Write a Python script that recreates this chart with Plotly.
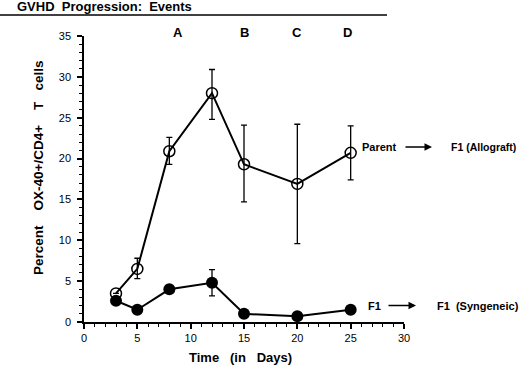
import plotly.graph_objects as go

days = [3, 5, 8, 12, 15, 20, 25]
allo_mean = [3.5, 6.5, 20.9, 28.0, 19.3, 16.9, 20.7]
allo_upper = [3.5, 7.8, 22.6, 30.9, 24.1, 24.2, 24.0]
allo_lower = [3.5, 5.3, 19.3, 24.8, 14.7, 9.6, 17.4]
syn_mean = [2.6, 1.5, 4.0, 4.8, 1.0, 0.7, 1.5]
syn_upper = [2.6, 1.5, 4.0, 6.4, 1.0, 0.7, 1.5]
syn_lower = [2.6, 1.5, 4.0, 3.2, 1.0, 0.7, 1.5]
event_labels = ["A", "B", "C", "D"]
event_days = [8.8, 15.0, 20.0, 24.7]
x_ticks = [0, 5, 10, 15, 20, 25, 30]
y_ticks = [0, 5, 10, 15, 20, 25, 30, 35]

def errs(mean, up, lo):
    plus = [u - m if u - m > 0 else None for m, u in zip(mean, up)]
    minus = [m - l if m - l > 0 else None for m, l in zip(mean, lo)]
    return plus, minus

ap, am = errs(allo_mean, allo_upper, allo_lower)
sp, sm = errs(syn_mean, syn_upper, syn_lower)

fig = go.Figure()
fig.add_trace(go.Scatter(
    x=days, y=allo_mean, mode="lines+markers",
    line=dict(color="black", width=2),
    marker=dict(symbol="circle-open", size=11, color="black", line=dict(width=1.5)),
    error_y=dict(type="data", array=ap, arrayminus=am, symmetric=False,
                 color="black", thickness=1.3, width=3),
    showlegend=False, cliponaxis=False))
fig.add_trace(go.Scatter(
    x=days, y=syn_mean, mode="lines+markers",
    line=dict(color="black", width=2),
    marker=dict(symbol="circle", size=12, color="black"),
    error_y=dict(type="data", array=sp, arrayminus=sm, symmetric=False,
                 color="black", thickness=1.3, width=3),
    showlegend=False, cliponaxis=False))

L, T, W, H = 84, 36, 320, 286

def px(x):
    return (x - L) / W

def py(y):
    return (T + H - y) / H

FAM = "Liberation Sans, Arial"
tick_font = dict(family=FAM, size=11, color="black")
bold = dict(family=FAM, size=13, color="black")

fig.update_xaxes(range=[0, 30], tickvals=x_ticks, showline=True, linecolor="black",
                 linewidth=1.5, ticks="outside", ticklen=5, tickwidth=1.5,
                 tickcolor="black", showgrid=False, zeroline=False, tickfont=tick_font,
                 minor=dict(dtick=1, ticks="outside", ticklen=3, tickcolor="black", tickwidth=1))
fig.update_yaxes(range=[0, 35], tickvals=y_ticks, showline=True, linecolor="black",
                 linewidth=1.5, ticks="outside", ticklen=5, tickwidth=1.5,
                 tickcolor="black", showgrid=False, zeroline=False, tickfont=tick_font,
                 ticklabelstandoff=4,
                 minor=dict(dtick=1, ticks="outside", ticklen=3, tickcolor="black", tickwidth=1))

anns = []
anns.append(dict(text="<b>GVHD  Progression:  Events</b>", xref="paper", yref="paper",
                 x=px(15), y=py(7), xanchor="left", yanchor="middle", showarrow=False,
                 font=dict(family=FAM, size=13, color="black")))
for lab, d in zip(event_labels, event_days):
    anns.append(dict(text="<b>%s</b>" % lab, xref="x", yref="paper", x=d, y=py(32),
                     xanchor="center", yanchor="middle", showarrow=False,
                     font=dict(family=FAM, size=13, color="black")))
anns.append(dict(text="<b>Percent    OX-40+/CD4+    T   cells</b>", xref="paper", yref="paper",
                 x=px(38), y=py(168), textangle=-90, xanchor="center", yanchor="middle",
                 showarrow=False, font=dict(family=FAM, size=13.5, color="black")))
anns.append(dict(text="<b>Time   (in   Days)</b>", xref="paper", yref="paper",
                 x=px(240), y=py(357), xanchor="center", yanchor="middle",
                 showarrow=False, font=bold))
small_bold = dict(family=FAM, size=11, color="black")
anns.append(dict(text="<b>Parent</b>", xref="paper", yref="paper", x=px(360), y=py(147),
                 xanchor="left", yanchor="middle", showarrow=False, font=small_bold))
anns.append(dict(text="<b>F1 (Allograft)</b>", xref="paper", yref="paper", x=px(449), y=py(147),
                 xanchor="left", yanchor="middle", showarrow=False,
                 font=dict(family=FAM, size=10.5, color="black")))
anns.append(dict(text="", xref="paper", yref="paper", x=px(432), y=py(147),
                 ax=-28, ay=0, showarrow=True, arrowhead=2, arrowsize=1, arrowwidth=1.5,
                 arrowcolor="black"))
anns.append(dict(text="<b>F1</b>", xref="paper", yref="paper", x=px(366), y=py(305.5),
                 xanchor="left", yanchor="middle", showarrow=False, font=small_bold))
anns.append(dict(text="<b>F1  (Syngeneic)</b>", xref="paper", yref="paper", x=px(435), y=py(305.5),
                 xanchor="left", yanchor="middle", showarrow=False, font=small_bold))
anns.append(dict(text="", xref="paper", yref="paper", x=px(416), y=py(305.5),
                 ax=-29, ay=0, showarrow=True, arrowhead=2, arrowsize=1, arrowwidth=1.5,
                 arrowcolor="black"))

fig.update_layout(
    width=520, height=366,
    margin=dict(l=L, r=520 - L - W, t=T, b=366 - T - H),
    paper_bgcolor="white", plot_bgcolor="white",
    annotations=anns,
    shapes=[dict(type="line", xref="paper", yref="paper", x0=px(0), x1=px(387),
                 y0=py(15), y1=py(15), line=dict(color="black", width=1.5))],
)

fig.write_html("out.html", config={"displayModeBar": False},
               post_script="document.body.style.margin='0px';document.body.style.overflow='hidden';")
